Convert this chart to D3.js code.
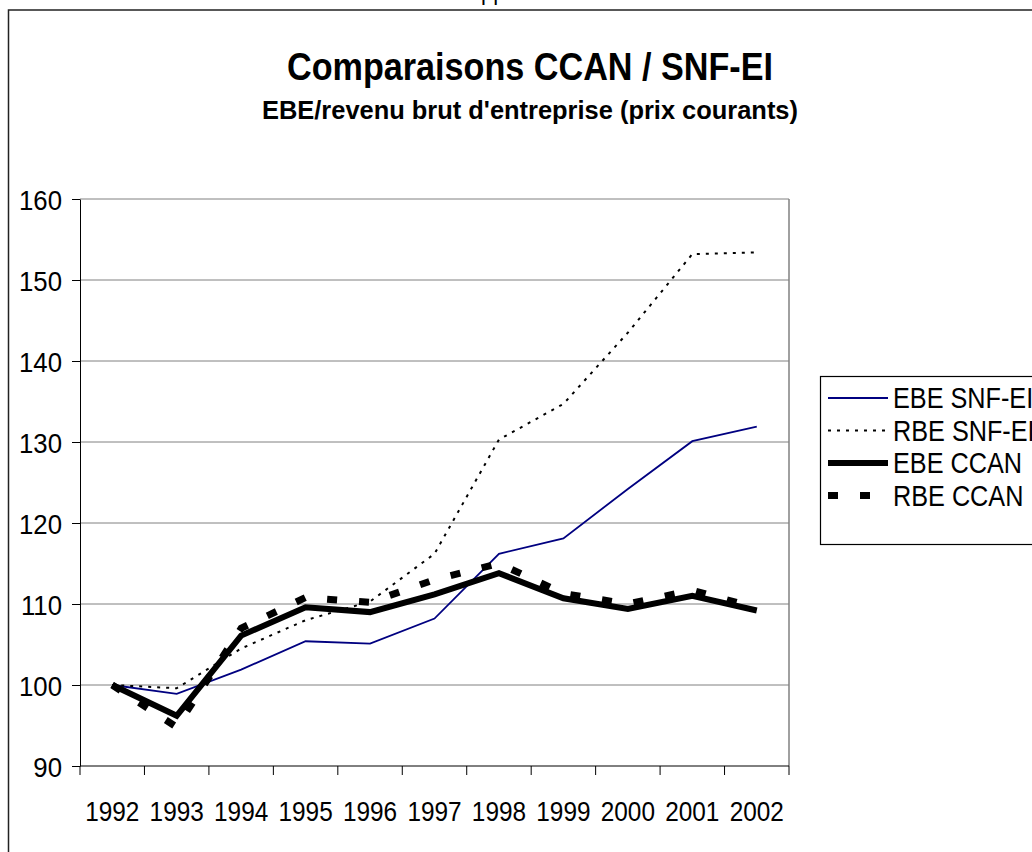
<!DOCTYPE html>
<html>
<head>
<meta charset="utf-8">
<script src="https://d3js.org/d3.v7.min.js"></script>
<style>
  body { margin: 0; background: #fff; }
  text { font-family: Arial, "Liberation Sans", sans-serif; fill: #000; }
</style>
</head>
<body>
<script>
// values
const years = ["1992", "1993", "1994", "1995", "1996", "1997", "1998", "1999", "2000", "2001", "2002"];
const ebeSnf = [100, 98.9, 101.9, 105.4, 105.1, 108.2, 116.2, 118.1, 124.2, 130.1, 131.9];
const rbeSnf = [100, 99.6, 104.5, 108.0, 110.3, 116.2, 130.3, 134.7, 143.5, 153.2, 153.4];
const ebeCcan = [100, 96.2, 106.1, 109.6, 109.0, 111.2, 113.8, 110.7, 109.4, 111.0, 109.2];
const rbeCcan = [100, 94.8, 107.0, 110.8, 110.2, 113.0, 115.0, 111.3, 110.0, 111.7, 109.5];
const yTicks = [90, 100, 110, 120, 130, 140, 150, 160];

const series = [
  { name: "EBE SNF-EI", values: ebeSnf, color: "#000080", width: 1.8, dash: null },
  { name: "RBE SNF-EI", values: rbeSnf, color: "#000", width: 2, dash: "3,6" },
  { name: "EBE CCAN", values: ebeCcan, color: "#000", width: 6, dash: null },
  { name: "RBE CCAN", values: rbeCcan, color: "#000", width: 7, dash: "10,22" }
];

let W = 1032, H = 852;
let plot = { left: 80, top: 199, right: 789, bottom: 766 };

let svg = d3.select("body").append("svg")
    .attr("width", W)
    .attr("height", H);

// squeeze text horizontally like the original
function squeeze(sel, k) {
  sel.each(function () {
    let w = this.getComputedTextLength();
    d3.select(this).attr("textLength", w * k).attr("lengthAdjust", "spacingAndGlyphs");
  });
}
function fitTo(sel, w) {
  sel.attr("textLength", w).attr("lengthAdjust", "spacingAndGlyphs");
}

// cut-off page text at the very top
svg.append("text").attr("x", 481).attr("y", 0).attr("font-size", 22).text("pp");

// outer frame
svg.append("rect")
    .attr("x", 8.5).attr("y", 10)
    .attr("width", 1100).attr("height", 900)
    .attr("fill", "none").attr("stroke", "#222").attr("stroke-width", 1.5);

svg.append("text")
    .attr("x", 530).attr("y", 80)
    .attr("text-anchor", "middle")
    .attr("font-size", 38).attr("font-weight", "bold")
    .text("Comparaisons CCAN / SNF-EI")
    .call(fitTo, 486);

svg.append("text")
    .attr("x", 530).attr("y", 119)
    .attr("text-anchor", "middle")
    .attr("font-size", 25).attr("font-weight", "bold")
    .text("EBE/revenu brut d'entreprise (prix courants)")
    .call(fitTo, 536);

let x = d3.scaleBand().domain(years).range([plot.left, plot.right]);
let y = d3.scaleLinear().domain([90, 160]).range([plot.bottom, plot.top]);

// gridlines
svg.append("g").selectAll("line")
    .data(yTicks.slice(1))
    .join("line")
    .attr("x1", plot.left).attr("x2", plot.right)
    .attr("y1", d => y(d)).attr("y2", d => y(d))
    .attr("stroke", "#808080").attr("stroke-width", 1);

// right frame
svg.append("line")
    .attr("x1", plot.right).attr("x2", plot.right)
    .attr("y1", plot.top).attr("y2", plot.bottom)
    .attr("stroke", "#808080").attr("stroke-width", 1.5);

// y axis
let yAxis = svg.append("g")
    .attr("transform", `translate(${plot.left},0)`)
    .call(d3.axisLeft(y).tickValues(yTicks).tickSize(8).tickPadding(10).tickSizeOuter(0));
yAxis.select(".domain").attr("stroke", "#000");
yAxis.selectAll(".tick line").attr("stroke", "#000");
yAxis.selectAll(".tick text")
    .attr("font-size", 28)
    .attr("font-family", "Arial, 'Liberation Sans', sans-serif")
    .attr("dy", "0.36em")
    .call(squeeze, 0.92);

// x axis: ticks at the category boundaries
let xAxis = svg.append("g")
    .attr("transform", `translate(0,${plot.bottom})`);
xAxis.append("line")
    .attr("x1", plot.left).attr("x2", plot.right)
    .attr("stroke", "#000").attr("stroke-width", 1);
let bounds = years.map(d => x(d)).concat([x(years[years.length - 1]) + x.bandwidth()]);
xAxis.selectAll("line.tk")
    .data(bounds)
    .join("line")
    .attr("class", "tk")
    .attr("x1", d => d).attr("x2", d => d)
    .attr("y1", 0).attr("y2", 9)
    .attr("stroke", "#000");
xAxis.selectAll("text")
    .data(years)
    .join("text")
    .attr("x", d => x(d) + x.bandwidth() / 2)
    .attr("y", 55)
    .attr("text-anchor", "middle")
    .attr("font-size", 28)
    .text(d => d)
    .call(squeeze, 0.87);

// lines
let line = d3.line()
    .x((d, i) => x(years[i]) + x.bandwidth() / 2)
    .y(d => y(d));

svg.append("g").selectAll("path")
    .data(series)
    .join("path")
    .attr("d", d => line(d.values))
    .attr("fill", "none")
    .attr("stroke", d => d.color)
    .attr("stroke-width", d => d.width)
    .attr("stroke-dasharray", d => d.dash)
    .attr("stroke-linejoin", "miter");

// legend
let lg = svg.append("g");
lg.append("rect")
    .attr("x", 820.5).attr("y", 376.5)
    .attr("width", 300).attr("height", 168)
    .attr("fill", "#fff").attr("stroke", "#000").attr("stroke-width", 1.2);
let items = lg.selectAll("g.item")
    .data(series)
    .join("g")
    .attr("class", "item")
    .attr("transform", (d, i) => `translate(0,${398 + i * 32.5})`);
items.append("line")
    .attr("x1", 828).attr("x2", 888)
    .attr("stroke", d => d.color)
    .attr("stroke-width", d => d.width)
    .attr("stroke-dasharray", d => d.dash);
items.append("text")
    .attr("x", 893).attr("y", 10)
    .attr("font-size", 29)
    .text(d => d.name)
    .call(squeeze, 0.87);
</script>
</body>
</html>
